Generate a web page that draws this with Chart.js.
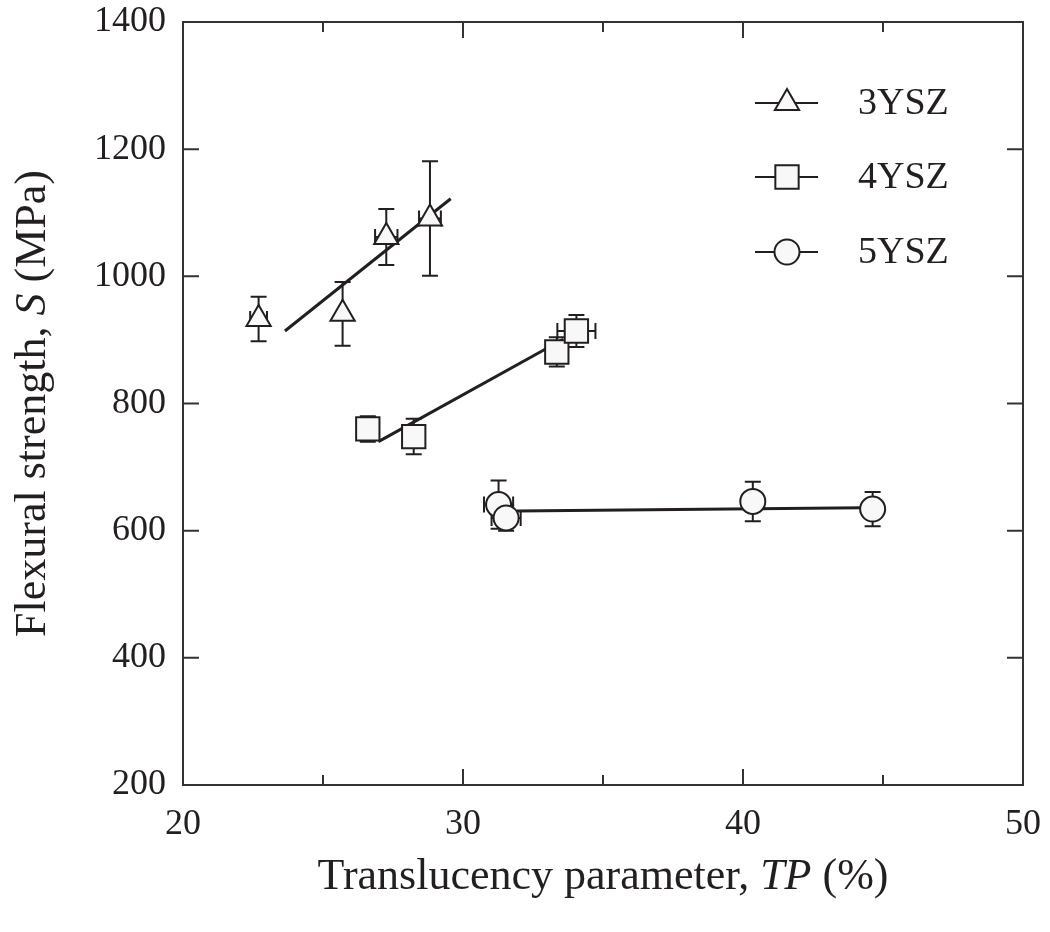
<!DOCTYPE html>
<html>
<head>
<meta charset="utf-8">
<script src="https://cdn.jsdelivr.net/npm/chart.js@4.4.1/dist/chart.umd.min.js"></script>
<style>
  html, body { margin: 0; padding: 0; background: #fff; }
</style>
</head>
<body>
<canvas id="flexChart" width="1050" height="932"></canvas>
<script>
// data
const seriesNames = ['3YSZ', '4YSZ', '5YSZ'];

const tp3 = [22.7, 25.7, 27.26, 28.82];
const s3 = [933, 941, 1062, 1091];
const s3Err = [35, 50, 44, 90];
const tp3Err = [0.3, 0, 0.4, 0.39];

const tp4 = [26.6, 28.24, 33.35, 34.05];
const s4 = [760, 748, 881, 914];
const s4Err = [20, 28, 23, 25];
const tp4Err = [0, 0, 0, 0.68];

const tp5 = [31.27, 31.54, 40.35, 44.63];
const s5 = [641, 620, 646, 634];
const s5Err = [38, 20, 31, 27];
const tp5Err = [0.52, 0.52, 0, 0];

// linear fits (end points)
const fit3Tp = [23.64, 29.56];
const fit3S = [914, 1122];
const fit4Tp = [26.98, 33.58];
const fit4S = [740, 901];
const fit5Tp = [31.92, 44.30];
const fit5S = [631, 636];

const xTicks = [20, 25, 30, 35, 40, 45, 50];
const yTicks = [200, 400, 600, 800, 1000, 1200, 1400];

const INK = '#231f20';
const FILL = '#f8f8f8';
const SERIF = '"Liberation Serif", "Times New Roman", serif';

function pts(xs, ys) {
    return xs.map(function (x, i) { return { x: x, y: ys[i] }; });
}

const errSets = [
    { xs: tp3, ys: s3, ye: s3Err, xe: tp3Err },
    { xs: tp4, ys: s4, ye: s4Err, xe: tp4Err },
    { xs: tp5, ys: s5, ye: s5Err, xe: tp5Err }
];

const errorBars = {
    id: 'errorBars',
    beforeDatasetsDraw(chart) {
        const ctx = chart.ctx;
        const xs = chart.scales.x, ys = chart.scales.y;
        const cap = 8;
        ctx.save();
        ctx.strokeStyle = INK;
        ctx.lineWidth = 2;
        errSets.forEach(function (set) {
            set.xs.forEach(function (xv, i) {
                const px = xs.getPixelForValue(xv);
                const py = ys.getPixelForValue(set.ys[i]);
                if (set.ye[i] > 0) {
                    const top = ys.getPixelForValue(set.ys[i] + set.ye[i]);
                    const bot = ys.getPixelForValue(set.ys[i] - set.ye[i]);
                    ctx.beginPath();
                    ctx.moveTo(px, top); ctx.lineTo(px, bot);
                    ctx.moveTo(px - cap, top); ctx.lineTo(px + cap, top);
                    ctx.moveTo(px - cap, bot); ctx.lineTo(px + cap, bot);
                    ctx.stroke();
                }
                if (set.xe[i] > 0) {
                    const l = xs.getPixelForValue(xv - set.xe[i]);
                    const r = xs.getPixelForValue(xv + set.xe[i]);
                    ctx.beginPath();
                    ctx.moveTo(l, py); ctx.lineTo(r, py);
                    ctx.moveTo(l, py - cap); ctx.lineTo(l, py + cap);
                    ctx.moveTo(r, py - cap); ctx.lineTo(r, py + cap);
                    ctx.stroke();
                }
            });
        });
        ctx.restore();
    }
};

// frame with inward ticks on all four sides, legend, axis titles
const decor = {
    id: 'decor',
    afterDraw(chart) {
        const ctx = chart.ctx;
        const a = chart.chartArea;
        const xs = chart.scales.x, ys = chart.scales.y;
        ctx.save();
        ctx.strokeStyle = '#333';
        ctx.lineWidth = 2;
        ctx.strokeRect(a.left, a.top, a.right - a.left, a.bottom - a.top);
        ctx.beginPath();
        xTicks.forEach(function (v) {
            const px = xs.getPixelForValue(v);
            const len = v % 10 === 0 ? 16 : 10;
            ctx.moveTo(px, a.bottom); ctx.lineTo(px, a.bottom - len);
            ctx.moveTo(px, a.top); ctx.lineTo(px, a.top + len);
        });
        yTicks.forEach(function (v) {
            const py = ys.getPixelForValue(v);
            ctx.moveTo(a.left, py); ctx.lineTo(a.left + 16, py);
            ctx.moveTo(a.right, py); ctx.lineTo(a.right - 16, py);
        });
        ctx.stroke();

        // legend
        const legY = [103, 177, 252];
        chart.data.datasets.slice(0, 3).forEach(function (ds, i) {
            const y = legY[i];
            ctx.strokeStyle = INK;
            ctx.lineWidth = 2;
            ctx.beginPath();
            ctx.moveTo(755, y); ctx.lineTo(818, y);
            ctx.stroke();
            ctx.fillStyle = FILL;
            ctx.lineWidth = 2;
            Chart.helpers.drawPoint(ctx, { pointStyle: ds.pointStyle, radius: ds.pointRadius, rotation: 0, borderWidth: 2 }, 787, y);
            ctx.fillStyle = INK;
            ctx.font = '38px ' + SERIF;
            ctx.textBaseline = 'middle';
            ctx.textAlign = 'left';
            ctx.fillText(ds.label, 858, y + 1);
        });

        // axis titles with italic symbols
        function mixed(parts, cx, cy) {
            let total = 0;
            parts.forEach(function (p) {
                ctx.font = (p[1] ? 'italic ' : '') + '44px ' + SERIF;
                p.w = ctx.measureText(p[0]).width;
                total += p.w;
            });
            let x = cx - total / 2;
            parts.forEach(function (p) {
                ctx.font = (p[1] ? 'italic ' : '') + '44px ' + SERIF;
                ctx.fillText(p[0], x, cy);
                x += p.w;
            });
        }
        ctx.fillStyle = INK;
        ctx.textAlign = 'left';
        ctx.textBaseline = 'middle';
        mixed([['Translucency parameter, ', false], ['TP', true], [' (%)', false]], (a.left + a.right) / 2, 877);
        ctx.translate(33, (a.top + a.bottom) / 2);
        ctx.rotate(-Math.PI / 2);
        mixed([['Flexural strength, ', false], ['S', true], [' (MPa)', false]], 0, 0);
        ctx.restore();
    }
};

function markerSet(label, xs, ys, style, r) {
    return {
        type: 'scatter',
        label: label,
        data: pts(xs, ys),
        pointStyle: style,
        pointRadius: r,
        pointHoverRadius: r,
        pointBackgroundColor: FILL,
        pointBorderColor: INK,
        pointBorderWidth: 2,
        showLine: false,
        order: 0
    };
}

function fitSet(xs, ys) {
    return {
        type: 'line',
        label: 'fit',
        data: pts(xs, ys),
        borderColor: INK,
        borderWidth: 3,
        pointRadius: 0,
        fill: false,
        tension: 0,
        order: 1
    };
}

new Chart(document.getElementById('flexChart'), {
    type: 'scatter',
    data: {
        datasets: [
            markerSet(seriesNames[0], tp3, s3, 'triangle', 14),
            markerSet(seriesNames[1], tp4, s4, 'rect', 16.5),
            markerSet(seriesNames[2], tp5, s5, 'circle', 12.5),
            fitSet(fit3Tp, fit3S),
            fitSet(fit4Tp, fit4S),
            fitSet(fit5Tp, fit5S)
        ]
    },
    options: {
        responsive: false,
        animation: false,
        layout: { padding: { top: 22, right: 27, left: 0, bottom: 0 } },
        plugins: { legend: { display: false }, tooltip: { enabled: false } },
        scales: {
            x: {
                type: 'linear',
                min: 20, max: 50,
                afterBuildTicks: function (s) { s.ticks = xTicks.map(function (v) { return { value: v }; }); },
                afterFit: function (s) { s.height = 147; s.paddingLeft = 0; s.paddingRight = 0; },
                ticks: {
                    autoSkip: false, maxRotation: 0, padding: 18, color: INK,
                    font: { family: SERIF, size: 36 },
                    callback: function (v) { return v % 10 === 0 ? String(v) : ''; }
                },
                grid: { display: false, drawTicks: false },
                border: { display: false }
            },
            y: {
                type: 'linear',
                min: 200, max: 1400,
                afterBuildTicks: function (s) { s.ticks = yTicks.map(function (v) { return { value: v }; }); },
                afterFit: function (s) { s.width = 183; s.paddingTop = 0; s.paddingBottom = 0; },
                ticks: {
                    autoSkip: false, padding: 17, color: INK,
                    font: { family: SERIF, size: 36 },
                    callback: function (v) { return String(v); }
                },
                grid: { display: false, drawTicks: false },
                border: { display: false }
            }
        }
    },
    plugins: [errorBars, decor]
});
</script>
</body>
</html>
